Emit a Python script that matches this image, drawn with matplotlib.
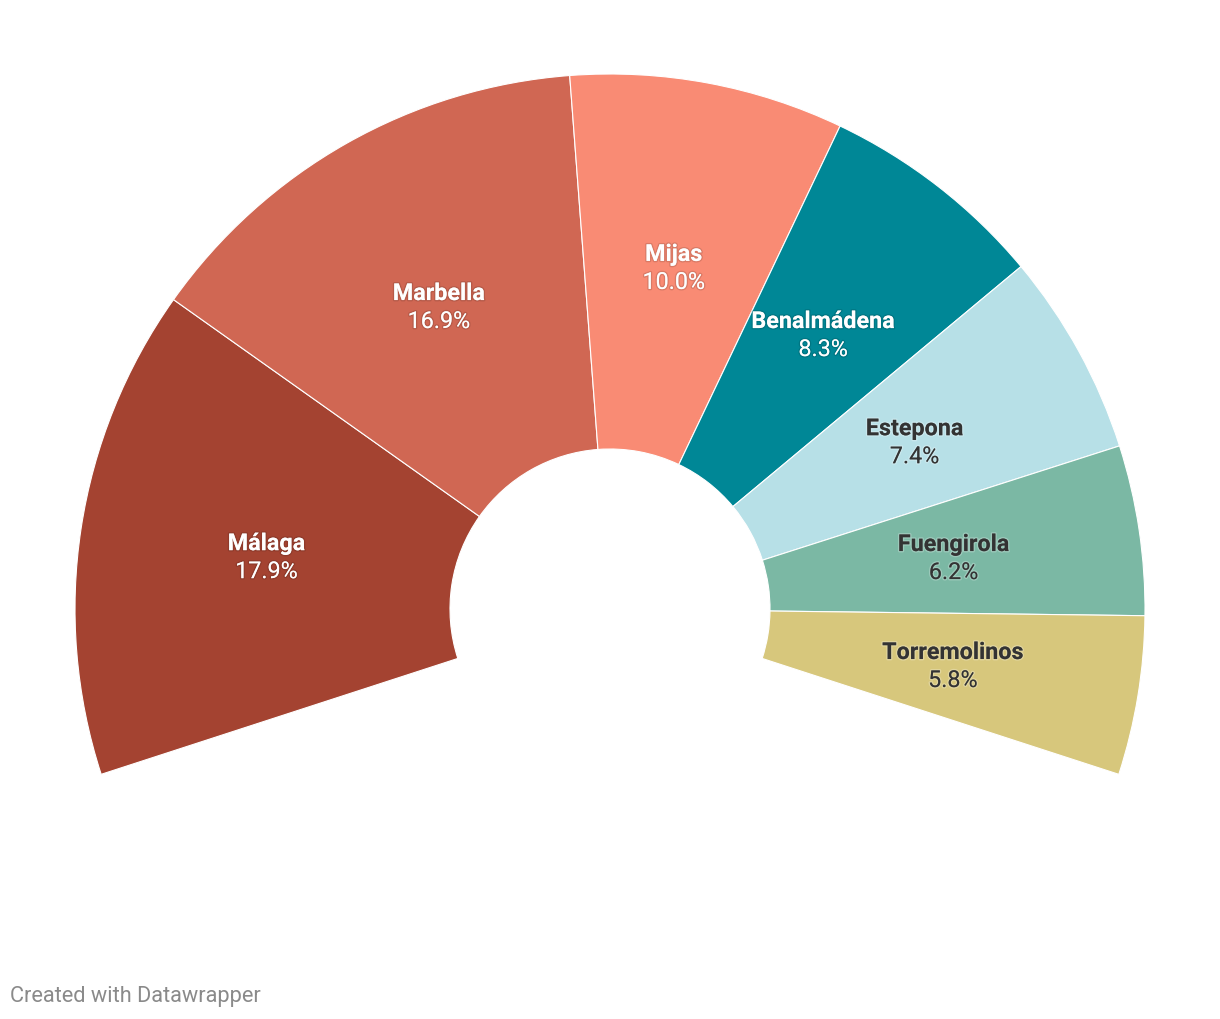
import numpy as np
import matplotlib
matplotlib.use("Agg")
import matplotlib.pyplot as plt
import matplotlib.patheffects as pe

# Data
categories = ["Málaga", "Marbella", "Mijas", "Benalmádena", "Estepona", "Fuengirola", "Torremolinos"]
values = [17.9, 16.9, 10.0, 8.3, 7.4, 6.2, 5.8]
labels_pct = ["17.9%", "16.9%", "10.0%", "8.3%", "7.4%", "6.2%", "5.8%"]

colors = ["#a44331", "#d06753", "#f98b74", "#008796", "#b7e0e7", "#7bb8a4", "#d7c77c"]
text_colors = ["white", "white", "white", "white", "#333333", "#333333", "#333333"]

W, H = 1220, 1020
fig = plt.figure(figsize=(W / 100, H / 100), dpi=100)
ax = fig.add_axes([0, 0, 1, 1])

cx, cy = 610, H - 610
r_out, r_in = 535, 160
span_frac = 0.6  # 216 degrees
start = 198

total = sum(values)
fracs = [v / total * span_frac for v in values]

ax.pie(fracs, normalize=False, startangle=start, counterclock=False,
       radius=r_out, center=(cx, cy), colors=colors,
       wedgeprops=dict(width=r_out - r_in, edgecolor="white", linewidth=0.8))
ax.set_xlim(0, W)
ax.set_ylim(0, H)
ax.set_aspect("equal")
ax.axis("off")

plt.rcParams["font.family"] = ["Roboto", "DejaVu Sans"]

ang = start
r_mid = (r_out + r_in) / 2
for name, pct, f, tc in zip(categories, labels_pct, fracs, text_colors):
    a0 = ang
    ang = ang - f * 360
    mid = np.deg2rad((a0 + ang) / 2)
    x = cx + r_mid * np.cos(mid)
    y = cy + r_mid * np.sin(mid)
    if tc == "white":
        eff = [pe.withStroke(linewidth=2, foreground=(0, 0, 0, 0.12))]
    else:
        eff = [pe.withStroke(linewidth=2, foreground=(1, 1, 1, 0.25))]
    ax.text(x, y + 13, name, ha="center", va="center", fontsize=16.8,
            fontweight="bold", color=tc, family=["Roboto", "DejaVu Sans"], path_effects=eff)
    ax.text(x, y - 15, pct, ha="center", va="center", fontsize=16.8,
            color=tc, family=["Roboto", "DejaVu Sans"], path_effects=eff)

fig.text(10 / W, 1 - 997 / H, "Created with Datawrapper", ha="left", va="center",
         fontsize=15.7, color="#8a8a8a", family=["Roboto", "DejaVu Sans"])

fig.savefig("out.png", dpi=100, facecolor="white")
